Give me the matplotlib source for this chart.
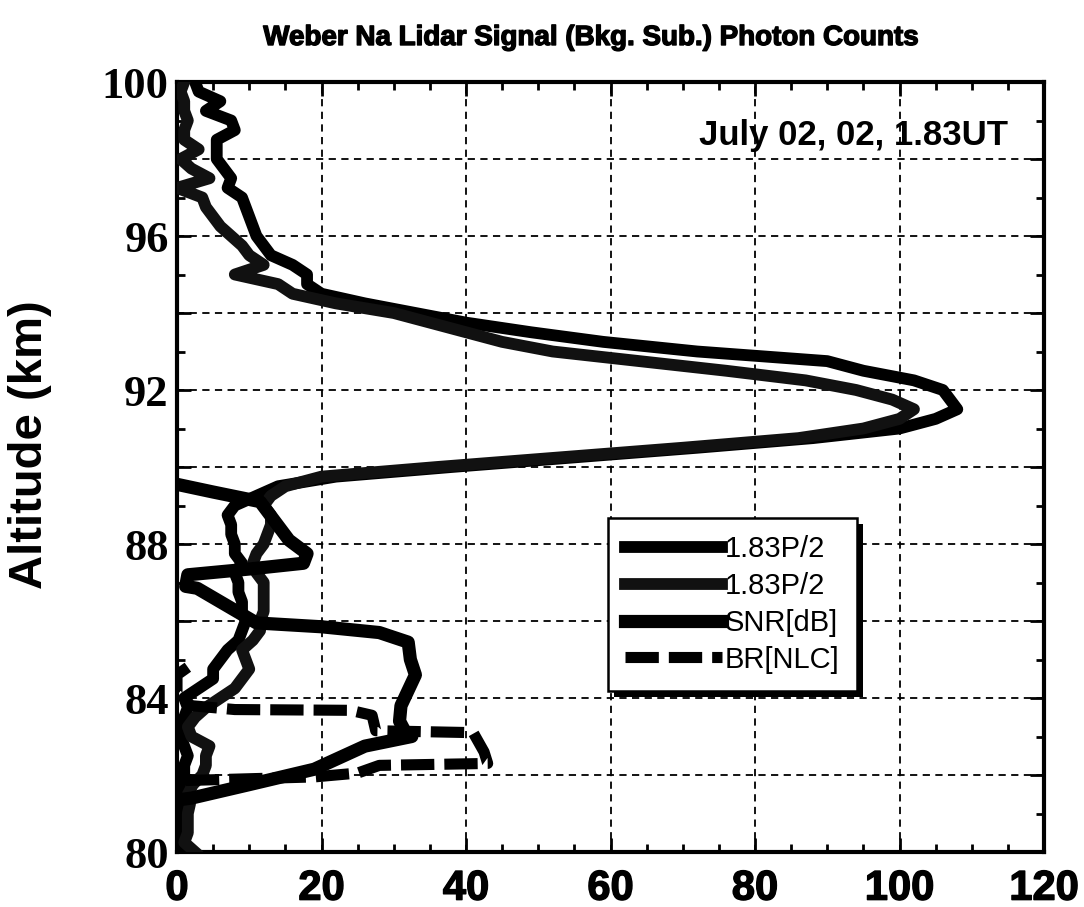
"""
Weber Na lidar profile: background-subtracted photon counts, SNR and NLC
backscatter ratio versus altitude (July 02, 1.83 UT).
"""

import matplotlib

matplotlib.use("Agg")
import matplotlib.patheffects as pe
import matplotlib.pyplot as plt
import numpy as np
from matplotlib.patches import Rectangle
from matplotlib.ticker import FuncFormatter, MultipleLocator

# altitude bins of the photon-count profiles (km)
ALT = np.arange(80.0, 100.001, 0.25)

# first 1.83P/2 profile (the one with the larger peak)
COUNTS_A = [
    1, 0.5, 0.5, 0.3, 0.5, 0.3, 0.5, 0.5, 1, 1,
    1.5, 1, 0.5, 0.5, 1, 1.5, 1, 3, 5, 5,
    6, 7, 8.5, 9, 9.5, 9, 9, 8.5, 8.5, 8,
    9, 8, 8, 7.5, 7.5, 7, 8, 11, 14, 22,
    38, 55, 72, 88, 100, 105, 108, 107, 106, 102,
    95, 90, 72, 59, 49, 40, 33, 26, 20, 18,
    18, 16, 13, 12, 11, 10.5, 10, 9.5, 9, 7,
    7.5, 6.5, 5.5, 5.5, 5.5, 8, 7.5, 4, 6, 3,
    2.5,
]
# second 1.83P/2 profile
COUNTS_B = [
    2.5, 1, 1.5, 1.5, 1.5, 1.8, 1.5, 2.2, 3.5, 4,
    4, 4.5, 2, 1.5, 2.5, 4, 6, 8, 9, 10,
    9.5, 9, 10.5, 11.5, 11.5, 12, 12, 12, 12, 11,
    10.5, 11, 12, 12.5, 13, 13, 12, 13, 15, 20,
    36, 53, 70, 86, 95, 100, 102, 99, 94, 87,
    76, 64, 52, 45, 40, 35, 30, 22, 16, 14,
    8, 12, 10, 9, 7.5, 6, 5, 4, 3.5, 0,
    4.5, 2, 0.5, 3, 1, 1, 1.5, 1, 1, 0.5,
    1,
]

# SNR [dB] curve
SNR_X = [0, 5, 11.5, 13.5, 15.5, 18, 17.5, 10, 1.5, 1.2, 2.8, 11, 20, 28,
         32, 32.3, 33, 32, 31, 30.8, 31.5, 32.5, 26, 19, 10, 2, 0]
SNR_ALT = [89.55, 89.35, 89.1, 88.6, 88.1, 87.75, 87.5, 87.35, 87.2, 86.9,
           86.85, 85.95, 85.85, 85.7, 85.45, 85.0, 84.6, 84.2, 83.8, 83.4,
           83.15, 83.0, 82.75, 82.15, 81.75, 81.4, 81.35]

# NLC backscatter ratio
BR_X = [1.5, 0, 0, 2, 8, 24, 27, 27.5, 41, 42.5, 43, 28, 25, 19, 0]
BR_ALT = [84.8, 84.6, 84.1, 83.8, 83.7, 83.68, 83.55, 83.15, 83.1, 82.6,
          82.3, 82.25, 82.05, 81.95, 81.85]

LABELS = ["1.83P/2", "1.83P/2", "SNR[dB]", "BR[NLC]"]

SANS = ["Liberation Sans", "DejaVu Sans"]
SERIF = ["Liberation Serif", "DejaVu Serif"]

# thickens bold text a little, like the heavy face of the original
HEAVY = [pe.withStroke(linewidth=1.0, foreground="black")]


def main() -> None:
    plt.rcParams.update({"font.family": SANS, "axes.linewidth": 3.0})

    fig = plt.figure(figsize=(10.84, 9.07), dpi=100)
    ax = fig.add_axes([177 / 1084, 55 / 907, 867 / 1084, 770 / 907])

    ax.plot(COUNTS_A, ALT, color="black", lw=8.5, label=LABELS[0], zorder=3)
    ax.plot(COUNTS_B, ALT, color="#111111", lw=8.5, label=LABELS[1], zorder=3)
    ax.plot(SNR_X, SNR_ALT, color="black", lw=9.5, label=LABELS[2], zorder=3)
    ax.plot(BR_X, BR_ALT, color="black", lw=8, ls=(0, (3, 0.9)),
            dash_capstyle="butt", label=LABELS[3], zorder=3)

    ax.set_xlim(0, 120)
    ax.set_ylim(80, 100)
    ax.xaxis.set_major_locator(MultipleLocator(20))
    ax.xaxis.set_minor_locator(MultipleLocator(5))
    ax.yaxis.set_major_locator(MultipleLocator(2))
    ax.yaxis.set_minor_locator(MultipleLocator(1))
    ax.yaxis.set_major_formatter(
        FuncFormatter(lambda v, p: f"{v:.0f}" if round(v) % 4 == 0 else "")
    )
    ax.tick_params(which="both", direction="in", top=True, right=True,
                   width=2, colors="black")
    ax.tick_params(which="major", length=10)
    ax.tick_params(which="minor", length=6)
    ax.tick_params(axis="x", pad=12)
    ax.tick_params(axis="y", pad=6)
    for lab in ax.get_xticklabels():
        lab.set_fontsize(30)
        lab.set_fontweight("bold")
        lab.set_path_effects(HEAVY)
    for lab in ax.get_yticklabels():
        lab.set_family(SERIF)
        lab.set_fontsize(32)
        lab.set_fontweight("bold")

    ax.grid(True, which="major", color="black", lw=1.3, ls=(0, (4, 3)))
    ax.set_axisbelow(True)

    ax.set_ylabel("Altitude (km)", fontsize=34, fontweight="bold")
    ax.yaxis.set_label_coords(-0.144, 0.529)

    ax.text(0.958, 0.918, "July 02, 02, 1.83UT", transform=ax.transAxes,
            ha="right", va="baseline", fontsize=25, fontweight="bold")

    fig.text(0.545, 1 - 45 / 907,
             "Weber Na Lidar Signal (Bkg. Sub.) Photon Counts",
             ha="center", va="baseline", fontsize=20, fontweight="bold",
             path_effects=HEAVY)

    leg = ax.legend(loc="upper left", bbox_to_anchor=(0.497, 0.434),
                    borderaxespad=0, fontsize=21, handlelength=3.3,
                    handletextpad=0.1, labelspacing=0.3, borderpad=0.6,
                    fancybox=False, framealpha=1, edgecolor="black")
    leg.get_frame().set_linewidth(1.8)
    leg.set_zorder(6)

    # offset black shadow under the legend box
    fig.canvas.draw()
    bb = leg.get_window_extent()
    ax.add_patch(Rectangle((bb.x0 + 6, bb.y0 - 6), bb.width, bb.height,
                           transform=None, facecolor="black",
                           edgecolor="none", zorder=5.5, clip_on=False))

    fig.savefig("out.png", dpi=100)
    plt.close(fig)


if __name__ == "__main__":
    main()
